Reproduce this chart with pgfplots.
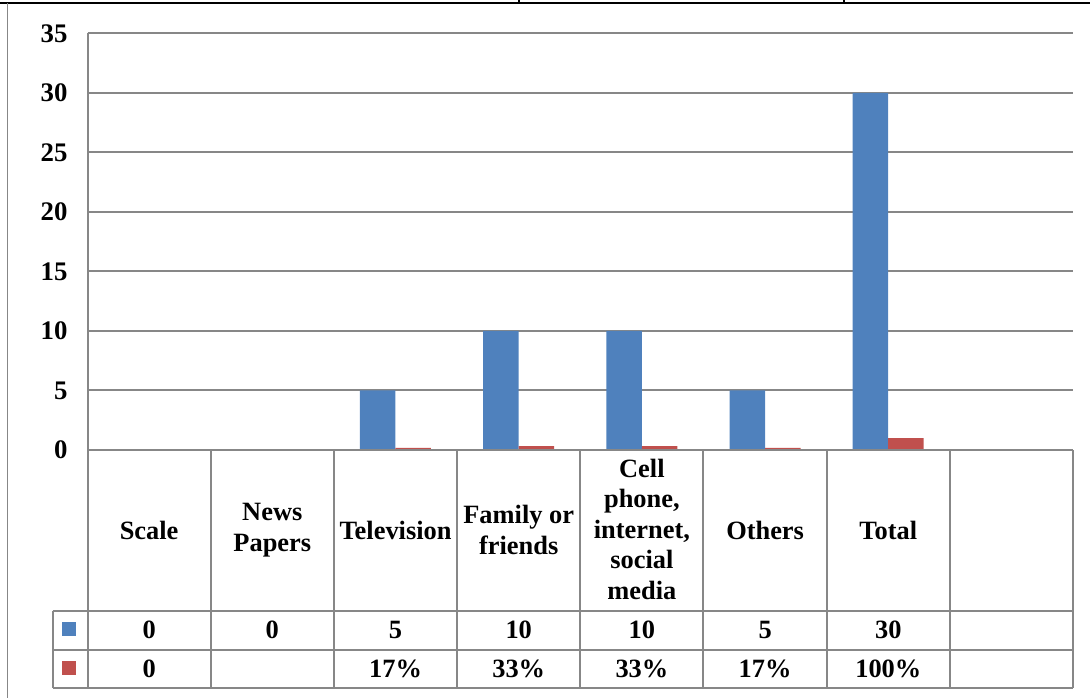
\documentclass[border=0pt]{standalone}
\usepackage{fontspec}
\setmainfont{Liberation Serif}
\usepackage{pgfplots}
\pgfplotsset{compat=1.18}
\definecolor{barblue}{HTML}{4F81BD}
\definecolor{barred}{HTML}{C0504D}
\definecolor{gridgray}{HTML}{878787}
\begin{document}
\begin{tikzpicture}[x=0.5pt,y=-0.5pt]
\useasboundingbox (0,0) rectangle (1090,698);
\coordinate (O) at (87.5,450);
\begin{axis}[at={(O)}, anchor=south west, scale only axis,
  width=492.75pt, height=208.35pt,
  xmin=-0.5, xmax=7.5, ymin=0, ymax=35,
  ytick={0,5,...,35}, xtick=\empty,
  axis y line*=left, axis x line*=bottom,
  ymajorgrids, grid style={gridgray, line width=1pt},
  axis line style={gridgray, line width=1pt},
  major tick length=0pt, tick style={draw=none},
  yticklabel style={font=\fontsize{13.4}{15}\selectfont\bfseries, xshift=-6.5pt},
  /pgf/number format/assume math mode=true,
  ybar=0pt, bar width=17.75pt, clip=false]
\addplot[fill=barblue, draw=none, bar shift=-8.875pt] coordinates {(0,0) (1,0) (2,5) (3,10) (4,10) (5,5) (6,30)};
\addplot[fill=barred, draw=none, bar shift=8.875pt] coordinates {(0,0) (2,0.17) (3,0.33) (4,0.33) (5,0.17) (6,1)};
\end{axis}
% frame
\draw[black, line width=1.3pt] (0,3) -- (1090,3);
\draw[black, line width=0.8pt] (519,0) -- (519,4);
\draw[black, line width=0.8pt] (844,0) -- (844,4);
\draw[gridgray, line width=0.9pt] (7.5,3) -- (7.5,698);
% data table
\begin{scope}[gridgray, line width=1pt]
\draw (87.5,450) -- (1073,450);
\draw (52.7,610.7) -- (1073,610.7);
\draw (52.7,650) -- (1073,650);
\draw (52.7,688) -- (1073,688);
\draw (52.7,610.7) -- (52.7,688);
\foreach \i in {0,...,8} {\draw ({87.5+123.19*\i},450) -- ({87.5+123.19*\i},688);}
\end{scope}
\fill[barblue] (62,622) rectangle (76,636);
\fill[barred] (62,661) rectangle (76,675);
\begin{scope}[every node/.style={font=\fontsize{13.2}{15.25}\selectfont\bfseries, align=center, inner sep=1pt}]
\node at (149.1,530) {Scale};
\node at (272.3,530) {News\\Papers};
\node at (395.5,530) {Television};
\node at (518.7,530) {Family or\\friends};
\node at (641.9,529) {Cell\\phone,\\internet,\\social\\media};
\node at (765.1,530) {Others};
\node at (888.3,530) {Total};
\node at (149.1,630) {0};
\node at (272.3,630) {0};
\node at (395.5,630) {5};
\node at (518.7,630) {10};
\node at (641.9,630) {10};
\node at (765.1,630) {5};
\node at (888.3,630) {30};
\node at (149.1,669) {0};
\node at (395.5,669) {17\%};
\node at (518.7,669) {33\%};
\node at (641.9,669) {33\%};
\node at (765.1,669) {17\%};
\node at (888.3,669) {100\%};
\end{scope}
\end{tikzpicture}
\end{document}
